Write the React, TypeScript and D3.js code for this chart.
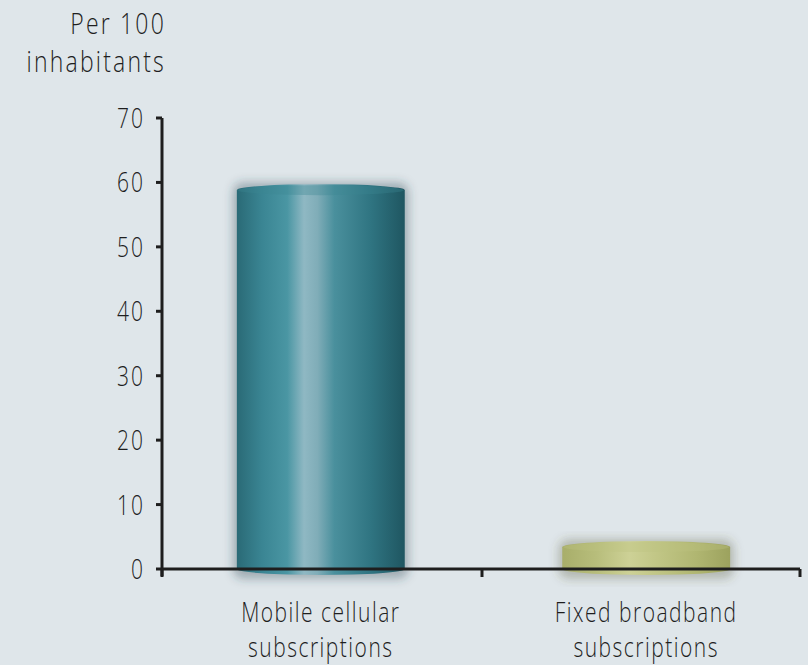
import React from "react";
import * as d3 from "d3";

const categories = ["Mobile cellular subscriptions", "Fixed broadband subscriptions"];
const labelLines = [["Mobile cellular", "subscriptions"], ["Fixed broadband", "subscriptions"]];
const values = [58.8, 3.4];
const yTicks = [0, 10, 20, 30, 40, 50, 60, 70];
const axisTitle = ["Per 100", "inhabitants"];

const W = 808, H = 665;
const x0 = 162, x1 = 800, yTop = 118, yBase = 569;
const font = "'Open Sans', 'DejaVu Sans', sans-serif";

function TallText({ x, y, anchor, size, ls, children }: { x: number; y: number; anchor: string; size: number; ls: number; children: React.ReactNode }) {
  return (
    <g transform={`translate(${x},${y}) scale(1,1.3)`}>
      <text x={0} y={0} textAnchor={anchor as any} fontFamily={font} fontWeight={300} fontSize={size} fill="#1e1e1e" letterSpacing={ls}>
        {children}
      </text>
    </g>
  );
}

export default function App() {
  const y = d3.scaleLinear().domain([0, 70]).range([yBase, yTop]);
  const x = d3.scaleBand().domain(categories).range([x0, 805]).paddingInner(0.484).paddingOuter(0.23);
  const grads = [
    { id: "g0", stops: [["0%", "#2a6a76"], ["15%", "#3a8593"], ["30%", "#4a96a3"], ["40%", "#8fb8c3"], ["48%", "#80adb8"], ["58%", "#4a909d"], ["80%", "#2f7481"], ["100%", "#1f5661"]], top: "#3b8692", shadow: "rgba(40,70,80,0.35)" },
    { id: "g1", stops: [["0%", "#a8ae6a"], ["20%", "#b7bd7b"], ["40%", "#cdd196"], ["55%", "#c2c787"], ["80%", "#b0b671"], ["100%", "#9ca25e"]], top: "#bcc281", shadow: "rgba(80,80,50,0.3)" },
  ];
  return (
    <div style={{ position: "absolute", left: 0, top: 0, width: W, height: H }}>
      <svg width={W} height={H} style={{ display: "block", background: "#dfe6ea" }}>
        <defs>
          {grads.map((g) => (
            <linearGradient key={g.id} id={g.id} x1="0" x2="1" y1="0" y2="0">
              {g.stops.map(([o, c]) => (
                <stop key={o} offset={o} stopColor={c} />
              ))}
            </linearGradient>
          ))}
          <filter id="blur" x="-20%" y="-20%" width="140%" height="140%">
            <feGaussianBlur stdDeviation="5" />
          </filter>
        </defs>
        <rect width={W} height={H} fill="#dfe6ea" />
        {values.map((v, i) => {
          const bx = x(categories[i])!;
          const bw = x.bandwidth();
          const ty = y(v);
          const ry = 6;
          const g = grads[i];
          return (
            <g key={i}>
              <rect x={bx - 4} y={ty - ry - 2} width={bw + 8} height={yBase - ty + 2 * ry + 6} rx={10} fill={g.shadow} filter="url(#blur)" />
              <path
                d={`M${bx},${ty} L${bx},${yBase} A${bw / 2},${ry} 0 0 0 ${bx + bw},${yBase} L${bx + bw},${ty} Z`}
                fill={`url(#${g.id})`}
              />
              <ellipse cx={bx + bw / 2} cy={ty} rx={bw / 2} ry={ry} fill={`url(#${g.id})`} />
              <ellipse cx={bx + bw / 2} cy={ty} rx={bw / 2 - 1} ry={ry - 1} fill={g.top} opacity={0.35} />
            </g>
          );
        })}
        {/* y axis */}
        <line x1={x0} x2={x0} y1={yTop} y2={yBase + 7} stroke="#1e1e1e" strokeWidth={3} />
        {yTicks.map((t) => (
          <g key={t}>
            <line x1={x0 - 6} x2={x0} y1={y(t)} y2={y(t)} stroke="#1e1e1e" strokeWidth={3} />
            <TallText x={x0 - 17} y={y(t) + 10} anchor="end" size={21} ls={2}>
              {t}
            </TallText>
          </g>
        ))}
        {/* x axis */}
        <line x1={x0} x2={x1} y1={yBase} y2={yBase} stroke="#1e1e1e" strokeWidth={3} />
        {[x0, 482, x1].map((xx, i) => (
          <line key={i} x1={xx} x2={xx} y1={yBase} y2={yBase + 8} stroke="#1e1e1e" strokeWidth={3} />
        ))}
        {labelLines.map((lines, i) => {
          const cx = x(categories[i])! + x.bandwidth() / 2;
          return (
            <g key={i}>
              {lines.map((l, j) => (
                <TallText key={j} x={cx} y={622 + j * 35} anchor="middle" size={21} ls={1.5}>
                  {l}
                </TallText>
              ))}
            </g>
          );
        })}
        <TallText x={166} y={34} anchor="end" size={23} ls={2.2}>{axisTitle[0]}</TallText>
        <TallText x={166} y={72} anchor="end" size={23} ls={2.2}>{axisTitle[1]}</TallText>
      </svg>
    </div>
  );
}
